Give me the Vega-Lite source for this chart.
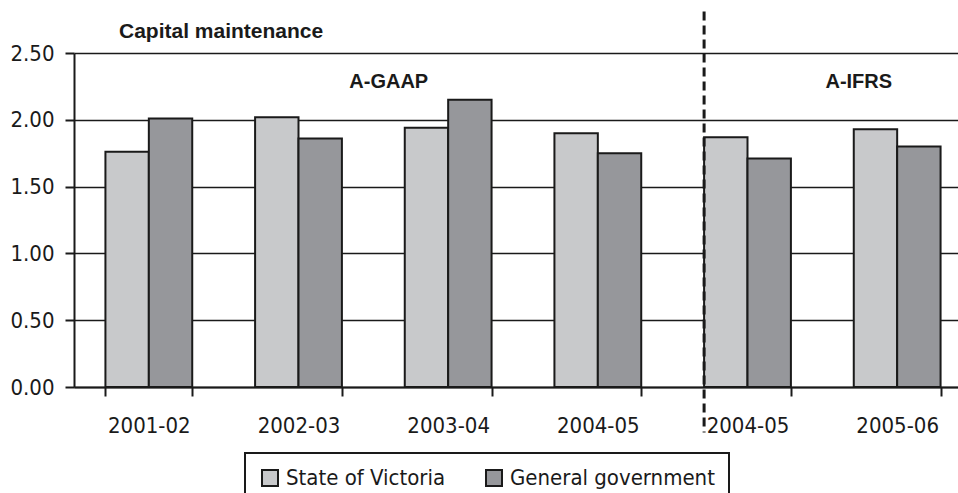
{
  "$schema": "https://vega.github.io/schema/vega-lite/v6.json",
  "width": 884,
  "height": 334,
  "autosize": "none",
  "padding": {"left": 74, "top": 53, "right": 0, "bottom": 106},
  "background": "white",
  "title": {
    "text": "Capital maintenance",
    "anchor": "start",
    "frame": "group",
    "dx": 45,
    "dy": 32,
    "offset": 0,
    "font": "Liberation Sans",
    "fontSize": 21,
    "fontWeight": "bold",
    "color": "#1a1a1a"
  },
  "datasets": {
    "bars": [
      {"cat": "2001-02", "series": "State of Victoria", "value": 1.76},
      {"cat": "2001-02", "series": "General government", "value": 2.01},
      {"cat": "2002-03", "series": "State of Victoria", "value": 2.02},
      {"cat": "2002-03", "series": "General government", "value": 1.86},
      {"cat": "2003-04", "series": "State of Victoria", "value": 1.94},
      {"cat": "2003-04", "series": "General government", "value": 2.15},
      {"cat": "2004-05", "series": "State of Victoria", "value": 1.90},
      {"cat": "2004-05", "series": "General government", "value": 1.75},
      {"cat": "2004-05 A-IFRS", "series": "State of Victoria", "value": 1.87},
      {"cat": "2004-05 A-IFRS", "series": "General government", "value": 1.71},
      {"cat": "2005-06", "series": "State of Victoria", "value": 1.93},
      {"cat": "2005-06", "series": "General government", "value": 1.80}
    ],
    "labels": [
      {"cat": "2003-04", "text": "A-GAAP", "value": 2.28, "shift": -16},
      {"cat": "2005-06", "text": "A-IFRS", "value": 2.28, "shift": 5}
    ],
    "divider": [
      {"cat": "2004-05 A-IFRS", "top": 2.81, "bottom": -0.34}
    ]
  },
  "layer": [
    {
      "data": {"name": "bars"},
      "mark": {"type": "bar", "stroke": "#1a1a1a", "strokeWidth": 2},
      "encoding": {
        "x": {
          "field": "cat",
          "type": "nominal",
          "sort": ["2001-02", "2002-03", "2003-04", "2004-05", "2004-05 A-IFRS", "2005-06"],
          "scale": {
            "domain": ["2001-02", "2002-03", "2003-04", "2004-05", "2004-05 A-IFRS", "2005-06"],
            "range": [0, 898],
            "paddingInner": 0.42,
            "paddingOuter": 0.21
          },
          "axis": {
            "title": null,
            "labelAngle": 0,
            "labelExpr": "split(datum.label, ' ')[0]",
            "tickBand": "extent",
            "tickSize": 9,
            "tickWidth": 2,
            "tickColor": "#1a1a1a",
            "domainColor": "#1a1a1a",
            "domainWidth": 2,
            "labelPadding": 19,
            "labelFont": "DejaVu Sans Condensed",
            "labelFontSize": 22,
            "labelColor": "#1a1a1a",
            "grid": false
          }
        },
        "xOffset": {
          "field": "series",
          "type": "nominal",
          "sort": ["State of Victoria", "General government"]
        },
        "y": {
          "field": "value",
          "type": "quantitative",
          "scale": {"domain": [0, 2.5], "nice": false, "zero": true},
          "axis": {
            "title": null,
            "values": [0, 0.5, 1, 1.5, 2, 2.5],
            "format": ".2f",
            "grid": true,
            "gridColor": "#1a1a1a",
            "gridWidth": 1.5,
            "tickSize": 9,
            "tickWidth": 2,
            "tickColor": "#1a1a1a",
            "domainColor": "#1a1a1a",
            "domainWidth": 2,
            "labelPadding": 11,
            "labelFont": "DejaVu Sans Condensed",
            "labelFontSize": 22,
            "labelColor": "#1a1a1a"
          }
        },
        "color": {
          "field": "series",
          "type": "nominal",
          "scale": {
            "domain": ["State of Victoria", "General government"],
            "range": ["#c8c9cb", "#96979b"]
          },
          "legend": {
            "title": null,
            "orient": "none",
            "legendX": 171,
            "legendY": 400,
            "direction": "horizontal",
            "symbolType": "square",
            "symbolSize": 256,
            "symbolStrokeColor": "#1a1a1a",
            "symbolStrokeWidth": 2,
            "symbolOpacity": 1,
            "labelFont": "DejaVu Sans Condensed",
            "labelFontSize": 22,
            "labelLimit": 400,
            "labelColor": "#1a1a1a",
            "labelOffset": 5,
            "columnPadding": 36,
            "padding": 14,
            "strokeColor": "#1a1a1a",
            "fillColor": "white"
          }
        }
      }
    },
    {
      "data": {"name": "labels"},
      "mark": {"type": "text", "font": "Liberation Sans", "fontSize": 20, "fontWeight": "bold", "color": "#1a1a1a", "align": "center", "baseline": "middle"},
      "encoding": {
        "x": {"field": "cat", "type": "nominal", "bandPosition": 0},
        "y": {"field": "value", "type": "quantitative"},
        "xOffset": {"field": "shift", "type": "quantitative", "scale": null},
        "text": {"field": "text"}
      }
    },
    {
      "data": {"name": "divider"},
      "mark": {"type": "rule", "stroke": "#1a1a1a", "strokeWidth": 3, "strokeDash": [9, 5]},
      "encoding": {
        "x": {"field": "cat", "type": "nominal", "bandPosition": 0},
        "y": {"field": "top", "type": "quantitative"},
        "y2": {"field": "bottom"}
      }
    }
  ],
  "config": {
    "view": {"stroke": null},
    "legend": {"strokeWidth": 2}
  }
}
